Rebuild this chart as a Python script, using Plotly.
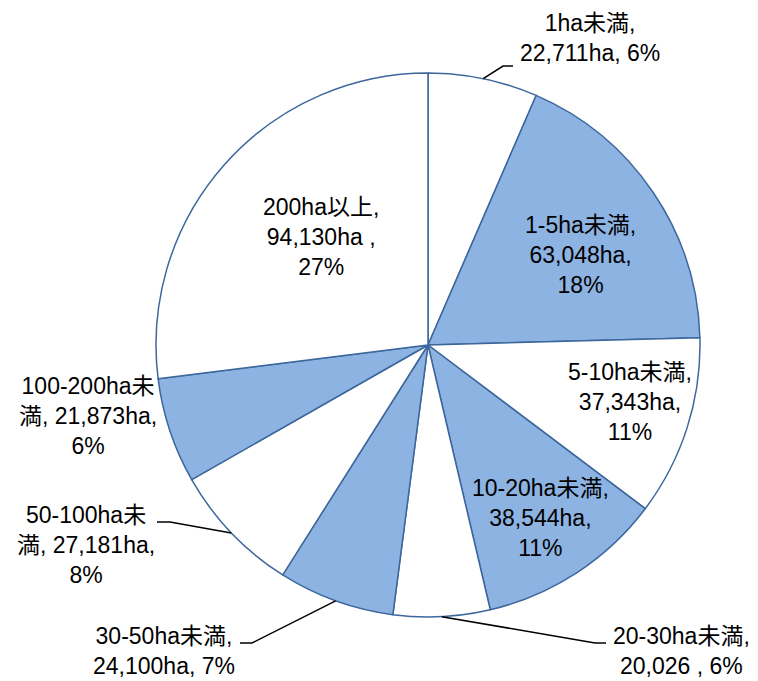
import math
import plotly.graph_objects as go

# ---- data ----
categories = ["1ha未満", "1-5ha未満", "5-10ha未満", "10-20ha未満", "20-30ha未満",
              "30-50ha未満", "50-100ha未満", "100-200ha未満", "200ha以上"]
values = [22711, 63048, 37343, 38544, 20026, 24100, 27181, 21873, 94130]
label_texts = [
    "1ha未満,<br>22,711ha, 6%",
    "1-5ha未満,<br>63,048ha,<br>18%",
    "5-10ha未満,<br>37,343ha,<br>11%",
    "10-20ha未満,<br>38,544ha,<br>11%",
    "20-30ha未満,<br>20,026 , 6%",
    "30-50ha未満,<br>24,100ha, 7%",
    "50-100ha未<br>満, 27,181ha,<br>8%",
    "100-200ha未<br>満, 21,873ha,<br>6%",
    "200ha以上,<br>94,130ha ,<br>27%",
]

# ---- layout / style ----
W, H = 758, 681
OFF = 8  # page body margin
CX, CY, R = 428, 345, 272
WHITE, BLUE = "#FFFFFF", "#8DB3E2"
colors = [WHITE, BLUE, WHITE, BLUE, WHITE, BLUE, WHITE, BLUE, WHITE]
EDGE = "#3D679C"
FONT = "Liberation Sans, Arial, Noto Sans CJK JP, sans-serif"

# label centres in page pixels
label_pos = [(590, 38), (580, 255), (630, 402), (540, 518), (681, 651),
             (164, 651), (86, 545), (88, 416), (321, 237)]
# leader lines: (elbow, end) in page pixels, or None
leaders = [((503, 66), (513, 66)), None, None, None,
           ((595, 643), (606, 643)), ((252, 643), (240, 643)),
           ((170, 522), (157, 522)), None, None]


def px(x):
    return (x - OFF) / W


def py(y):
    return 1 - (y - OFF) / H


fig = go.Figure(go.Pie(
    labels=categories, values=values, sort=False, direction="clockwise",
    rotation=0, textinfo="none", hoverinfo="label+value+percent",
    marker=dict(colors=colors, line=dict(color=EDGE, width=1.5)),
    domain=dict(x=[px(CX - R), px(CX + R)], y=[py(CY + R), py(CY - R)]),
    showlegend=False,
))

total = sum(values)
cum = 0
shapes = []
annotations = []
for i, v in enumerate(values):
    mid = (cum + v / 2) / total * 2 * math.pi
    cum += v
    ex, ey = CX + R * math.sin(mid), CY - R * math.cos(mid)
    if leaders[i]:
        (bx, by), (tx, ty) = leaders[i]
        path = f"M {px(ex)},{py(ey)} L {px(bx)},{py(by)} L {px(tx)},{py(ty)}"
        shapes.append(dict(type="path", xref="paper", yref="paper", path=path,
                           line=dict(color="black", width=1.5)))
    lx, ly = label_pos[i]
    annotations.append(dict(x=px(lx), y=py(ly), xref="paper", yref="paper",
                            text=label_texts[i], showarrow=False, borderpad=0,
                            xanchor="center", yanchor="middle", align="center",
                            font=dict(family=FONT, size=23, color="black")))

fig.update_layout(
    width=W, height=H, margin=dict(l=0, r=0, t=0, b=0),
    paper_bgcolor="white", plot_bgcolor="white",
    shapes=shapes, annotations=annotations,
)
fig.write_html("out.html")
